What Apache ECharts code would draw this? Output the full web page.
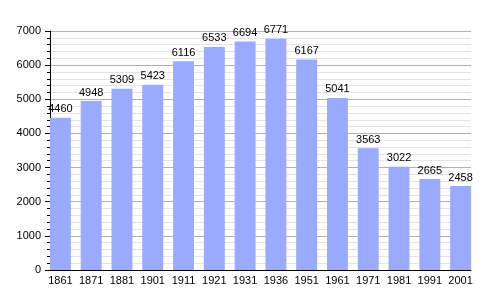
<!DOCTYPE html>
<html><head><meta charset="utf-8">
<script src="https://cdn.jsdelivr.net/npm/echarts@6/dist/echarts.min.js"></script>
<style>html,body{margin:0;padding:0;background:#fff}#c{width:500px;height:300px}</style>
</head><body><div id="c"></div>
<script>
var years = ['1861','1871','1881','1901','1911','1921','1931','1936','1951','1961','1971','1981','1991','2001'];
var population = [4460,4948,5309,5423,6116,6533,6694,6771,6167,5041,3563,3022,2665,2458];
var yTicks = [0,1000,2000,3000,4000,5000,6000,7000];
var font = 'Liberation Sans, Arial, sans-serif';
var chart = echarts.init(document.getElementById('c'));
chart.setOption({
  animation:false,
  grid:[{left:50,right:29,top:31,bottom:30},{left:45,right:24,top:31,bottom:30}],
  xAxis:[
    {type:'category',gridIndex:0,data:years,
      axisLine:{lineStyle:{color:'#000',width:1}},
      axisTick:{show:false},axisLabel:{show:false}},
    {type:'category',gridIndex:1,data:years,
      axisLine:{show:false},axisTick:{show:false},
      axisLabel:{color:'#000',fontFamily:font,fontSize:11,margin:5,interval:0}}
  ],
  yAxis:[
    {type:'value',gridIndex:0,min:yTicks[0],max:yTicks[yTicks.length-1],interval:1000,
      axisLine:{show:true,lineStyle:{color:'#000'}},
      axisTick:{show:true,inside:false,length:5,lineStyle:{color:'#000'}},
      minorTick:{show:true,splitNumber:5,length:3,lineStyle:{color:'#000'}},
      splitLine:{show:true,lineStyle:{color:'#b0b0b0',width:1}},
      minorSplitLine:{show:true,lineStyle:{color:'#e4e4e4',width:1}},
      axisLabel:{color:'#000',fontFamily:font,fontSize:11,margin:9,formatter:function(v){return String(v);}}},
    {type:'value',gridIndex:1,min:yTicks[0],max:yTicks[yTicks.length-1],interval:1000,show:false}
  ],
  series:[{type:'bar',xAxisIndex:1,yAxisIndex:1,data:population,barCategoryGap:'32%',
    itemStyle:{color:'#99aaff'},
    label:{show:true,position:'top',color:'#000',fontFamily:font,fontSize:11,distance:3}}]
});
</script></body></html>
